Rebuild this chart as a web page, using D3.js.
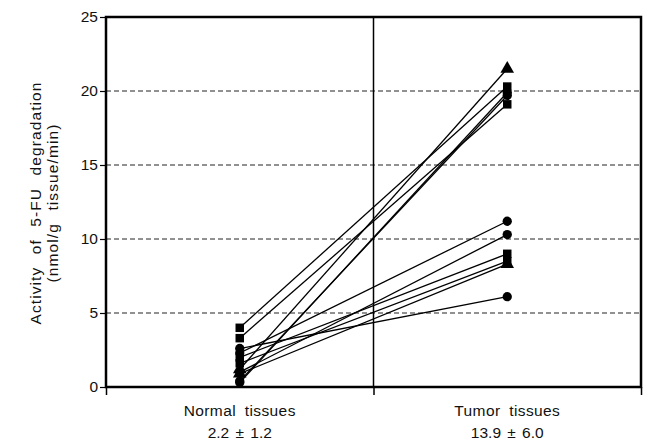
<!DOCTYPE html>
<html><head><meta charset="utf-8">
<script src="https://cdn.jsdelivr.net/npm/d3@7"></script>
<style>body{margin:0;background:#fff}text{font-family:"Liberation Sans",Arial,sans-serif;fill:#111}</style>
</head><body><svg id="c" width="653" height="444"></svg>
<script>
const groups = ["Normal tissues", "Tumor tissues"];
const groupStats = ["2.2 \u00b1 1.2", "13.9 \u00b1 6.0"];
const normalValues = [1.2, 4.0, 0.4, 3.3, 2.3, 1.0, 2.0, 1.6, 0.9, 2.6, 0.3];
const tumorValues  = [21.5, 20.3, 19.7, 19.1, 11.2, 10.3, 9.0, 8.5, 8.3, 6.1, 19.9];
const shapes = ["triangle","square","circle","square","circle","circle","square","square","triangle","circle","circle"];
const yTicks = [0, 5, 10, 15, 20, 25];
const gridValues = [5, 10, 15, 20];

const svg = d3.select("#c");
const L = 106, R = 641, T = 17, B = 387;
const x = d3.scaleLinear().domain([0, 2]).range([L, R]);
const y = d3.scaleLinear().domain([0, 25]).range([B, T]);

// grid
svg.append("g").selectAll("line").data(gridValues).join("line")
  .attr("x1", L).attr("x2", R).attr("y1", d => y(d)).attr("y2", d => y(d))
  .attr("stroke", "#222").attr("stroke-width", 1).attr("stroke-dasharray", "5,3");

// frame
svg.append("rect").attr("x", L).attr("y", T).attr("width", R - L).attr("height", B - T)
  .attr("fill", "none").attr("stroke", "#000").attr("stroke-width", 2.5);
svg.append("line").attr("x1", x(1)).attr("x2", x(1)).attr("y1", T).attr("y2", B)
  .attr("stroke", "#000").attr("stroke-width", 1.5);

// y axis
const ya = svg.append("g").attr("transform", `translate(${L},0)`)
  .call(d3.axisLeft(y).tickValues(yTicks).tickSize(6).tickPadding(2).tickFormat(d3.format("d")));
ya.select(".domain").remove();
ya.selectAll("line").attr("stroke", "#000").attr("stroke-width", 1.2);
ya.selectAll("text").style("font-size", "15.5px").attr("fill", "#111");

// x ticks (boundaries)
const xa = svg.append("g").attr("transform", `translate(0,${B})`)
  .call(d3.axisBottom(x).tickValues([0, 1, 2]).tickSize(8).tickFormat(""));
xa.select(".domain").remove();
xa.selectAll("line").attr("stroke", "#000").attr("stroke-width", 1.5);

// x labels
const lab = svg.append("g");
groups.forEach((g, i) => {
  lab.append("text").attr("x", x(i + 0.5)).attr("y", 416).attr("text-anchor", "middle")
    .style("font-size", "15.5px").style("letter-spacing", "0.4px").style("word-spacing", "4px").text(g);
  lab.append("text").attr("x", x(i + 0.5)).attr("y", 438).attr("text-anchor", "middle")
    .style("font-size", "15.5px").style("word-spacing", "2px").text(groupStats[i]);
});

// y label
const yl = svg.append("text").attr("transform", "translate(41,203) rotate(-90)")
  .attr("text-anchor", "middle").style("font-size", "15.5px")
  .style("letter-spacing", "1.1px").style("word-spacing", "7px");
yl.append("tspan").attr("x", 0).attr("dy", 0).text("Activity of 5-FU degradation");
yl.append("tspan").attr("x", 0).attr("dy", 17).text("(nmol/g tissue/min)");

// lines
const pairs = normalValues.map((n, i) => ({n, t: tumorValues[i], s: shapes[i]}));
svg.append("g").selectAll("line").data(pairs).join("line")
  .attr("x1", x(0.5)).attr("x2", x(1.5))
  .attr("y1", d => y(d.n)).attr("y2", d => y(d.t))
  .attr("stroke", "#000").attr("stroke-width", 1.3);

// markers
const sym = {square: d3.symbolSquare, circle: d3.symbolCircle, triangle: d3.symbolTriangle};
const sz = {square: 72, circle: 68, triangle: 80};
const mk = svg.append("g");
pairs.forEach(p => {
  [[0.5, p.n], [1.5, p.t]].forEach(([gx, v]) => {
    mk.append("path").attr("d", d3.symbol().type(sym[p.s]).size(sz[p.s])())
      .attr("transform", `translate(${x(gx)},${y(v)})`).attr("fill", "#000");
  });
});
</script></body></html>
